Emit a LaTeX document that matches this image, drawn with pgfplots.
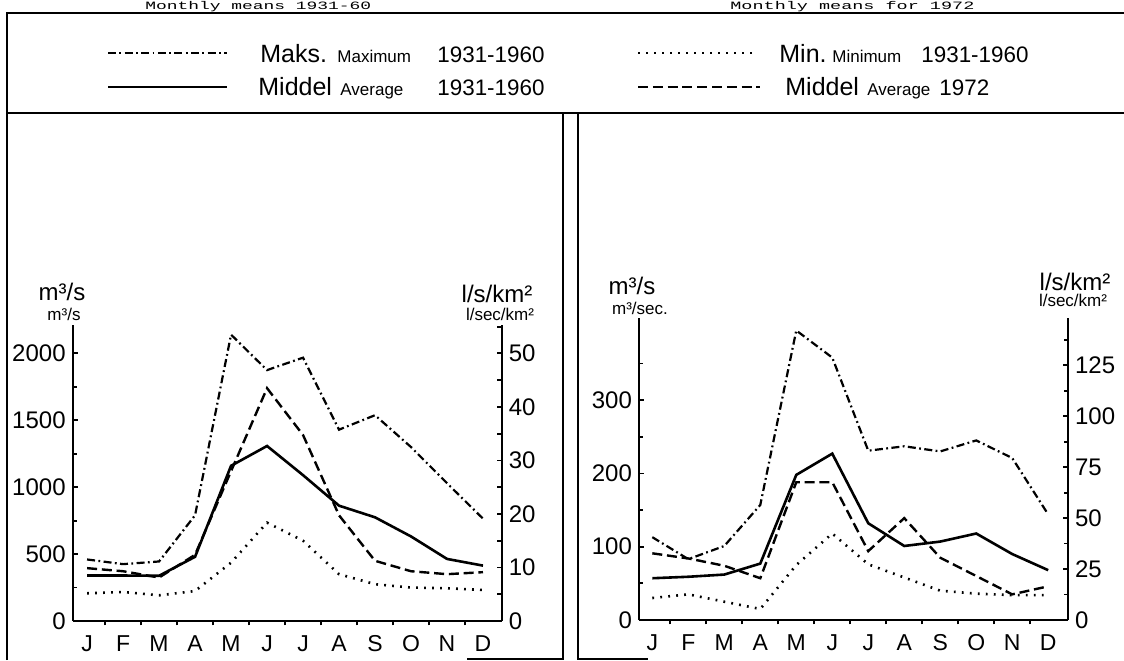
\documentclass[border=0pt]{standalone}
\usepackage{pgfplots}
\pgfplotsset{compat=1.18}
\usepackage{fontspec}
\setmainfont{Liberation Sans}
\newfontfamily\monofont{Liberation Mono}

\tikzset{
  maxstyle/.style={line width=1.1pt, dash pattern=on 4pt off 1.7pt on 0.9pt off 1.7pt},
  avgstyle/.style={line width=1.3pt},
  yrstyle/.style={line width=1.2pt, dash pattern=on 5pt off 2.4pt},
  minstyle/.style={line width=1.3pt, dash pattern=on 0.9pt off 3.1pt},
}
\newcommand\lgbig{\fontsize{12.5}{13}\selectfont}
\newcommand\lgnum{\fontsize{11.2}{12}\selectfont}
\newcommand\lgsml{\fontsize{8.5}{9}\selectfont}
\newcommand\unitbig{\fontsize{12}{12}\selectfont}
\newcommand\unitsml{\fontsize{8.5}{9}\selectfont}

\pgfplotsset{
  panel/.style={
    scale only axis, width=214.5pt,
    axis line style={line width=1pt},
    every tick/.style={line width=0.9pt, black},
    major tick length=2.6pt, minor tick length=2.2pt,
    tick label style={font=\fontsize{12}{12}\selectfont},
    /pgf/number format/assume math mode=true,
    /pgf/number format/1000 sep={},
    ytick align=inside, xtick align=outside,
  },
  leftax/.style={
    panel, axis x line*=bottom, axis y line*=left,
    xtick={1,...,12}, xticklabels={J,F,M,A,M,J,J,A,S,O,N,D},
    minor xtick={1.5,2.5,...,11.5},
    major x tick style={draw=none},
    xticklabel style={font=\fontsize{11.5}{12}\selectfont, yshift=-1pt},
  },
  rightax/.style={
    panel, axis x line=none, axis y line*=right,
  },
}

\begin{document}
\begin{tikzpicture}[x=0.5pt,y=-0.5pt]
\useasboundingbox (0,0) rectangle (1124,660);

% headings above the frame
\node[anchor=base west, font=\monofont\fontsize{5.6}{6}\selectfont, inner sep=0] at (145,9.5) {\scalebox{1.6}[1]{Monthly means 1931-60}};
\node[anchor=base west, font=\monofont\fontsize{5.6}{6}\selectfont, inner sep=0] at (730,9.5) {\scalebox{1.65}[1]{Monthly means for 1972}};

% frames
\draw[line width=1pt] (7,660) -- (7,13) -- (1124,13);
\draw[line width=1pt] (7,113) -- (1124,113);
\draw[line width=1pt] (563,113) -- (563,660);
\draw[line width=1pt] (578,113) -- (578,660);
\draw[line width=0.8pt] (467,659) -- (563,659);
\draw[line width=0.8pt] (578,659) -- (648,659);

% legend
\draw[maxstyle] (108,53) -- (227,53);
\node[anchor=base west, inner sep=0, font=\lgbig] at (260,62) {Maks.};
\node[anchor=base west, inner sep=0, font=\lgsml] at (337,62) {Maximum};
\node[anchor=base west, inner sep=0, font=\lgnum] at (437,62) {1931-1960};
\draw[avgstyle] (108,87) -- (227,87);
\node[anchor=base west, inner sep=0, font=\lgbig] at (258,95) {Middel};
\node[anchor=base west, inner sep=0, font=\lgsml] at (340,95) {Average};
\node[anchor=base west, inner sep=0, font=\lgnum] at (437,95) {1931-1960};

\draw[minstyle] (638,53) -- (755,53);
\node[anchor=base west, inner sep=0, font=\lgbig] at (779,62) {Min.};
\node[anchor=base west, inner sep=0, font=\lgsml] at (832,62) {Minimum};
\node[anchor=base west, inner sep=0, font=\lgnum] at (921,62) {1931-1960};
\draw[yrstyle] (638,87) -- (760,87);
\node[anchor=base west, inner sep=0, font=\lgbig] at (785,95) {Middel};
\node[anchor=base west, inner sep=0, font=\lgsml] at (867,95) {Average};
\node[anchor=base west, inner sep=0, font=\lgnum] at (939,95) {1972};

% unit labels
\node[font=\unitbig, inner sep=0] at (62,292) {m³/s};
\node[font=\unitsml, inner sep=0] at (64,314) {m³/s};
\node[font=\unitbig, inner sep=0] at (497,294) {l/s/km²};
\node[font=\unitsml, inner sep=0] at (500,314) {l/sec/km²};
\node[font=\unitbig, inner sep=0] at (632,286) {m³/s};
\node[font=\unitsml, inner sep=0] at (640,308) {m³/sec.};
\node[font=\unitbig, inner sep=0] at (1075,282) {l/s/km²};
\node[font=\unitsml, inner sep=0] at (1073,300) {l/sec/km²};

% ---------------- left panel ----------------
\begin{axis}[leftax, at={(36.35pt,-310.5pt)}, anchor=south west, height=148pt,
  xmin=0.6, xmax=12.52, ymin=0, ymax=2212,
  ytick={0,500,...,2000}, minor ytick={250,750,1250,1750}]
\addplot[maxstyle] coordinates {(1,460) (2,425) (3,445) (4,790) (5,2140) (6,1875) (7,1968) (8,1430) (9,1538) (10,1300) (11,1030) (12,765)};
\addplot[avgstyle] coordinates {(1,340) (2,340) (3,338) (4,480) (5,1160) (6,1308) (7,1090) (8,862) (9,775) (10,632) (11,464) (12,414)};
\addplot[yrstyle] coordinates {(1,395) (2,372) (3,325) (4,495) (5,1120) (6,1740) (7,1390) (8,790) (9,450) (10,372) (11,350) (12,365)};
\addplot[minstyle] coordinates {(1,207) (2,217) (3,192) (4,224) (5,436) (6,735) (7,600) (8,350) (9,275) (10,250) (11,245) (12,232)};
\end{axis}
\begin{axis}[rightax, at={(36.35pt,-310.5pt)}, anchor=south west, height=148pt,
  xmin=0.6, xmax=12.52, ymin=0, ymax=55.3,
  ytick={0,10,...,50}, minor ytick={5,15,...,55}]
\addplot[draw=none] coordinates {(1,0)};
\end{axis}

% ---------------- right panel ----------------
\begin{axis}[leftax, at={(319.5pt,-310pt)}, anchor=south west, height=151pt,
  xmin=0.63, xmax=12.55, ymin=0, ymax=412,
  ytick={0,100,200,300}, minor ytick={50,150,250,350}]
\addplot[maxstyle] coordinates {(1,113) (2,83) (3,101) (4,157) (5,395) (6,358) (7,231) (8,237) (9,230) (10,245) (11,221) (12,144)};
\addplot[avgstyle] coordinates {(1,57) (2,59) (3,62) (4,77) (5,198) (6,227) (7,132) (8,101) (9,107) (10,118) (11,90) (12,68)};
\addplot[yrstyle] coordinates {(1,91) (2,84) (3,74) (4,57) (5,188) (6,188) (7,94) (8,139) (9,85) (10,60) (11,35) (12,46)};
\addplot[minstyle] coordinates {(1,30) (2,35) (3,25) (4,15) (5,75) (6,118) (7,76) (8,58) (9,40) (10,36) (11,34) (12,34)};
\end{axis}
\begin{axis}[rightax, at={(319.5pt,-310pt)}, anchor=south west, height=151pt,
  xmin=0.63, xmax=12.55, ymin=0, ymax=148.2,
  ytick={0,25,...,125}, minor ytick={12.5,37.5,...,137.5}]
\addplot[draw=none] coordinates {(1,0)};
\end{axis}
\end{tikzpicture}
\end{document}
